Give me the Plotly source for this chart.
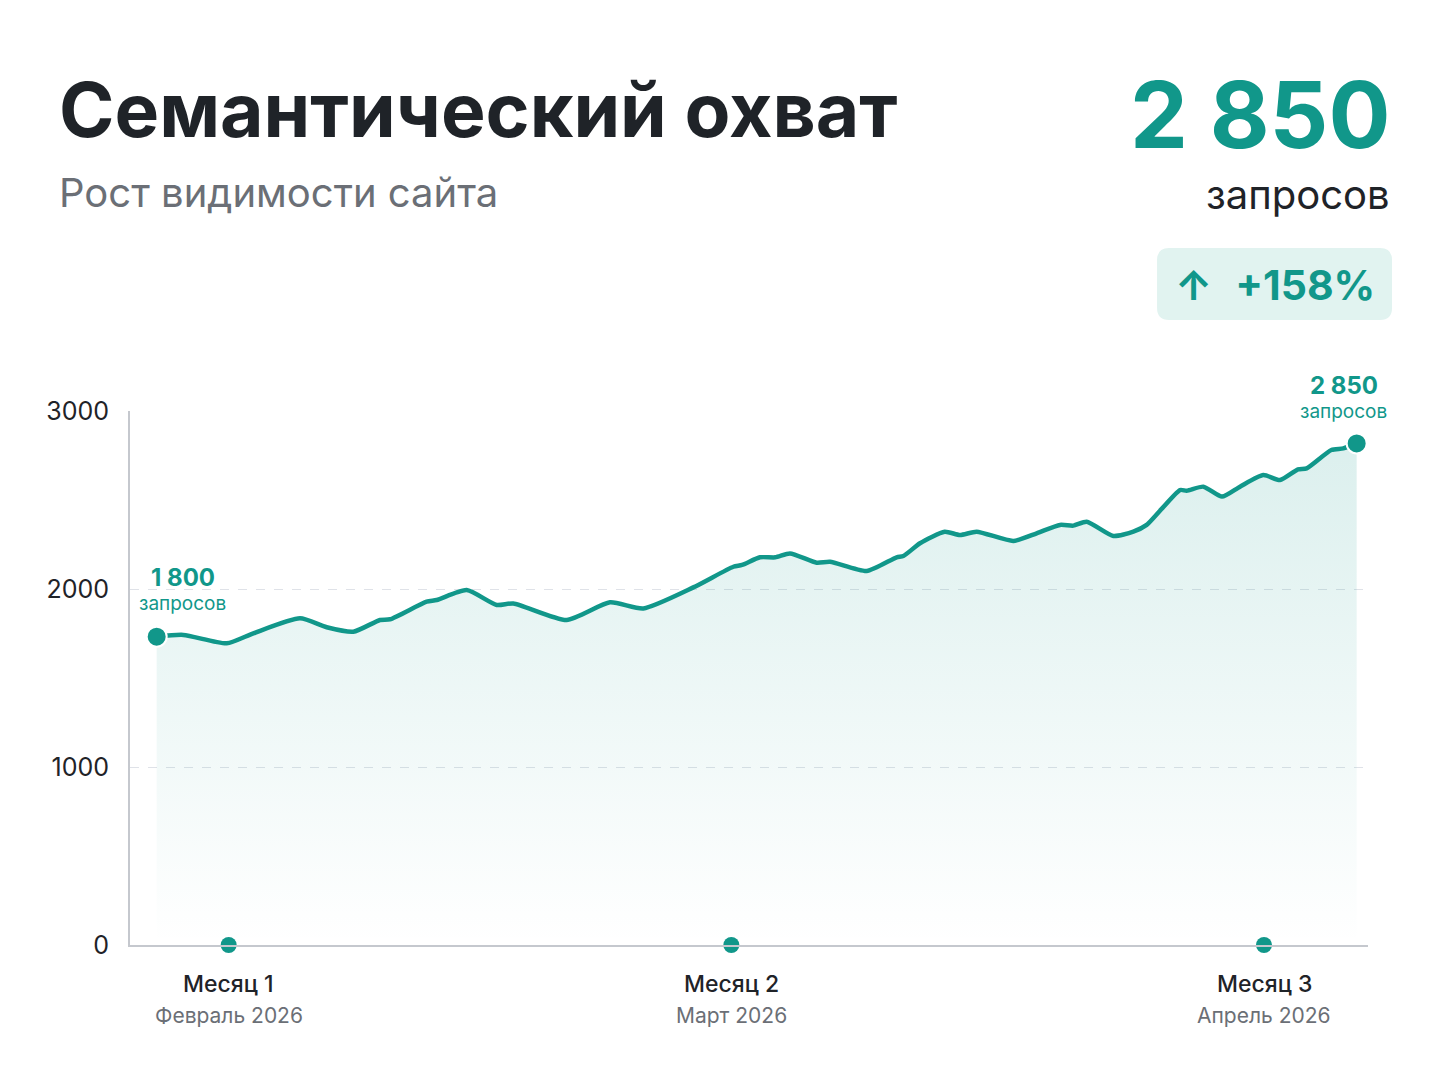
import plotly.graph_objects as go

# day index (0 = first day of period) and number of queries
days = [0, 2.0, 5.25, 7.25, 10.75, 12.75, 14.75, 16.75, 17.5, 20.25, 21.0, 23.25,
        25.5, 26.75, 30.75, 34.0, 36.5, 40.25, 43.25, 43.9, 45.25, 46.4, 47.5,
        49.5, 50.5, 53.25, 55.5, 56.0, 57.25, 59.1, 60.25, 61.5, 64.25, 66.0,
        67.75, 68.75, 69.75, 71.75, 73.25, 74.25, 76.75, 77.25, 78.5, 79.9,
        81.25, 83.0, 84.25, 85.6, 86.25, 88.1, 89.0, 90.0]
queries = [1732, 1742, 1695, 1751, 1835, 1785, 1760, 1826, 1830, 1929, 1938, 1994,
           1910, 1919, 1826, 1925, 1891, 2009, 2125, 2135, 2178, 2178, 2200,
           2148, 2153, 2101, 2178, 2185, 2257, 2322, 2303, 2322, 2270, 2313,
           2360, 2356, 2378, 2298, 2322, 2360, 2556, 2552, 2575, 2519,
           2575, 2640, 2612, 2672, 2678, 2781, 2790, 2818]

month_days = [5.4, 43.1, 83.05]
month_names = ["Месяц 1", "Месяц 2", "Месяц 3"]
month_dates = ["Февраль 2026", "Март 2026", "Апрель 2026"]

start_label = "1 800"
end_label = "2 850"
total_label = "2 850"
growth_label = "+158%"

TEAL = "#11978a"
DARK = "#1f2328"
GRAY = "#6b6f76"
FONT = "Inter"

fig = go.Figure()

fig.add_trace(go.Scatter(
    x=days, y=queries, mode="lines",
    line=dict(color=TEAL, width=4.5, shape="spline", smoothing=0.6),
    fill="tozeroy",
    fillgradient=dict(type="vertical", start=0, stop=2850,
                      colorscale=[[0, "rgba(17,151,138,0.0)"],
                                  [1, "rgba(17,151,138,0.15)"]]),
    hoverinfo="skip", showlegend=False,
))

# end points
fig.add_trace(go.Scatter(
    x=[days[0], days[-1]], y=[queries[0], queries[-1]], mode="markers",
    marker=dict(color=TEAL, size=20, line=dict(color="white", width=2)),
    cliponaxis=False, showlegend=False, hoverinfo="skip",
))

# month markers on the axis
fig.add_trace(go.Scatter(
    x=month_days, y=[0] * len(month_days), mode="markers",
    marker=dict(color=TEAL, size=16),
    cliponaxis=False, showlegend=False, hoverinfo="skip",
))

ann = []
for d, n, dt in zip(month_days, month_names, month_dates):
    ann.append(dict(x=d, y=0, xref="x", yref="paper", text=n, showarrow=False,
                    yshift=-55, font=dict(family=FONT, size=23, color=DARK, weight=500)))
    ann.append(dict(x=d, y=0, xref="x", yref="paper", text=dt, showarrow=False,
                    yshift=-85, font=dict(family=FONT, size=21, color=GRAY)))

# point labels
ann += [
    dict(x=days[0], y=queries[0], text="<b>%s</b>" % start_label, showarrow=False,
         xshift=26, yshift=59, font=dict(family=FONT, size=24, color=TEAL)),
    dict(x=days[0], y=queries[0], text="запросов", showarrow=False,
         xshift=26, yshift=33, font=dict(family=FONT, size=19, color=TEAL)),
    dict(x=days[-1], y=queries[-1], text="<b>%s</b>" % end_label, showarrow=False,
         xshift=-13, yshift=58, font=dict(family=FONT, size=24, color=TEAL)),
    dict(x=days[-1], y=queries[-1], text="запросов", showarrow=False,
         xshift=-13, yshift=32, font=dict(family=FONT, size=19, color=TEAL)),
]

# header
ann += [
    dict(x=-0.059, y=1.5637, xref="paper", yref="paper", xanchor="left", yanchor="middle",
         text="<b>Семантический охват</b>", showarrow=False,
         font=dict(family=FONT, size=75, color=DARK)),
    dict(x=-0.059, y=1.41, xref="paper", yref="paper", xanchor="left", yanchor="middle",
         text="Рост видимости сайта", showarrow=False,
         font=dict(family=FONT, size=40, color=GRAY)),
    dict(x=1.0194, y=1.555, xref="paper", yref="paper", xanchor="right", yanchor="middle",
         text="<b>%s</b>" % total_label, showarrow=False,
         font=dict(family=FONT, size=92, color=TEAL)),
    dict(x=1.0194, y=1.405, xref="paper", yref="paper", xanchor="right", yanchor="middle",
         text="запросов", showarrow=False,
         font=dict(family=FONT, size=40, color=DARK)),
    dict(x=0.9245, y=1.236, xref="paper", yref="paper", xanchor="center", yanchor="middle",
         text="<b>↑</b>  <b>%s</b>" % growth_label, showarrow=False,
         font=dict(family=FONT, size=41, color=TEAL)),
]

# badge with rounded corners (paper coords)
x0, x1, y0, y1 = 0.8296, 1.0194, 1.1704, 1.3052
rx, ry = 0.0097, 0.0225
badge = (f"M {x0+rx},{y0} L {x1-rx},{y0} Q {x1},{y0} {x1},{y0+ry} "
         f"L {x1},{y1-ry} Q {x1},{y1} {x1-rx},{y1} L {x0+rx},{y1} "
         f"Q {x0},{y1} {x0},{y1-ry} L {x0},{y0+ry} Q {x0},{y0} {x0+rx},{y0} Z")

fig.update_layout(
    width=1432, height=1070,
    margin=dict(l=122, r=72, t=403, b=133),
    paper_bgcolor="white", plot_bgcolor="white",
    font=dict(family=FONT, color=DARK),
    annotations=ann,
    shapes=[dict(type="path", path=badge, xref="paper", yref="paper",
                 fillcolor="#e1f3f0", line=dict(width=0), layer="below")],
    xaxis=dict(range=[-2.0, 90.85], showgrid=False, zeroline=False,
               showticklabels=False, ticks="", showline=True,
               linecolor="#c5c8ce", linewidth=2, fixedrange=True),
    yaxis=dict(range=[0, 3000], tickvals=[0, 1000, 2000, 3000],
               showgrid=True, gridcolor="#dfe2e8", griddash="dash", gridwidth=1,
               zeroline=False, showline=True, linecolor="#c5c8ce", linewidth=2,
               ticks="", ticklabelstandoff=14,
               tickfont=dict(family=FONT, size=25, color=DARK)),
)

fig.write_html("out.html")
